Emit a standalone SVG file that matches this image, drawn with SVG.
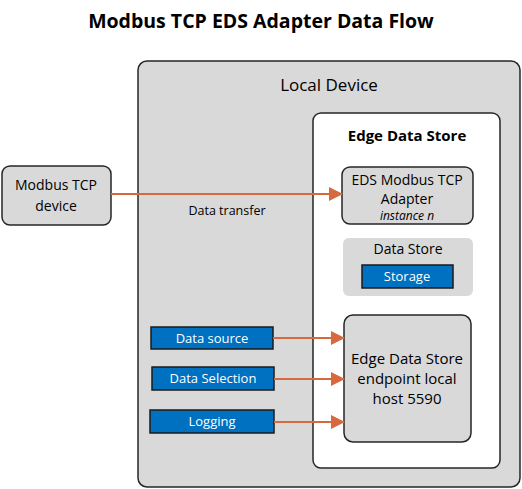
<svg xmlns="http://www.w3.org/2000/svg" width="522" height="489" viewBox="0 0 522 489">
<style>
text{font-family:"Open Sans","Liberation Sans",sans-serif;fill:#000;text-anchor:middle}
.grey{fill:#d9d9d9;stroke:#262626;stroke-width:1.5}
.blue{fill:#0070c0;stroke:#1a1a1a;stroke-width:1.5}
.wt{fill:#fff;font-size:13px}
.conn{stroke:#d8693f;stroke-width:2;fill:none}
</style>
<defs>
<marker id="ah" markerWidth="14" markerHeight="14" refX="13" refY="7" orient="auto" markerUnits="userSpaceOnUse">
<path d="M0,0 L14,7 L0,14 Z" fill="#d8693f"/>
</marker>
</defs>
<rect width="522" height="489" fill="#fff"/>
<text x="261" y="28" style="font-size:19.5px;font-weight:bold">Modbus TCP EDS Adapter Data Flow</text>
<g id="local-device">
<rect class="grey" x="138" y="61" width="382" height="426" rx="9"/>
<text x="329" y="91" style="font-size:17px">Local Device</text>
</g>
<g id="edge-data-store">
<rect x="313" y="113" width="187" height="355" rx="8" fill="#fff" stroke="#262626" stroke-width="1.5"/>
<text x="407" y="141" style="font-size:15px;font-weight:bold">Edge Data Store</text>
</g>
<g id="modbus-device">
<rect class="grey" x="2" y="166" width="109" height="59" rx="8"/>
<text x="56" y="190" style="font-size:14px">Modbus TCP</text>
<text x="56" y="211" style="font-size:14px">device</text>
</g>
<g id="adapter">
<rect class="grey" x="342" y="167" width="131" height="57" rx="8"/>
<text x="407" y="185" style="font-size:14px">EDS Modbus TCP</text>
<text x="407" y="204" style="font-size:14px">Adapter</text>
<text x="407" y="220" style="font-size:12px;font-style:italic">instance n</text>
</g>
<g id="data-store">
<rect x="343" y="238" width="130" height="58" rx="6" fill="#d9d9d9"/>
<text x="408" y="254" style="font-size:14px">Data Store</text>
</g>
<g id="storage">
<rect class="blue" x="362" y="265" width="91" height="23"/>
<text class="wt" x="407" y="281">Storage</text>
</g>
<g id="endpoint">
<rect class="grey" x="344" y="315" width="127" height="127" rx="9"/>
<text x="407" y="364" style="font-size:15px">Edge Data Store</text>
<text x="407" y="384" style="font-size:15px">endpoint local</text>
<text x="407" y="404" style="font-size:15px">host 5590</text>
</g>
<g id="data-source">
<rect class="blue" x="151" y="327" width="122" height="22"/>
<text class="wt" x="212" y="343">Data source</text>
</g>
<g id="data-selection">
<rect class="blue" x="152" y="367" width="122" height="23"/>
<text class="wt" x="213" y="383">Data Selection</text>
</g>
<g id="logging">
<rect class="blue" x="150" y="410" width="124" height="23"/>
<text class="wt" x="212" y="426">Logging</text>
</g>
<g id="connectors">
<line class="conn" x1="111" y1="194" x2="342" y2="194" marker-end="url(#ah)"/>
<text x="227" y="215" style="font-size:12.5px">Data transfer</text>
<line class="conn" x1="273" y1="338" x2="344" y2="338" marker-end="url(#ah)"/>
<line class="conn" x1="274" y1="379" x2="344" y2="379" marker-end="url(#ah)"/>
<line class="conn" x1="274" y1="422" x2="344" y2="422" marker-end="url(#ah)"/>
</g>
</svg>
